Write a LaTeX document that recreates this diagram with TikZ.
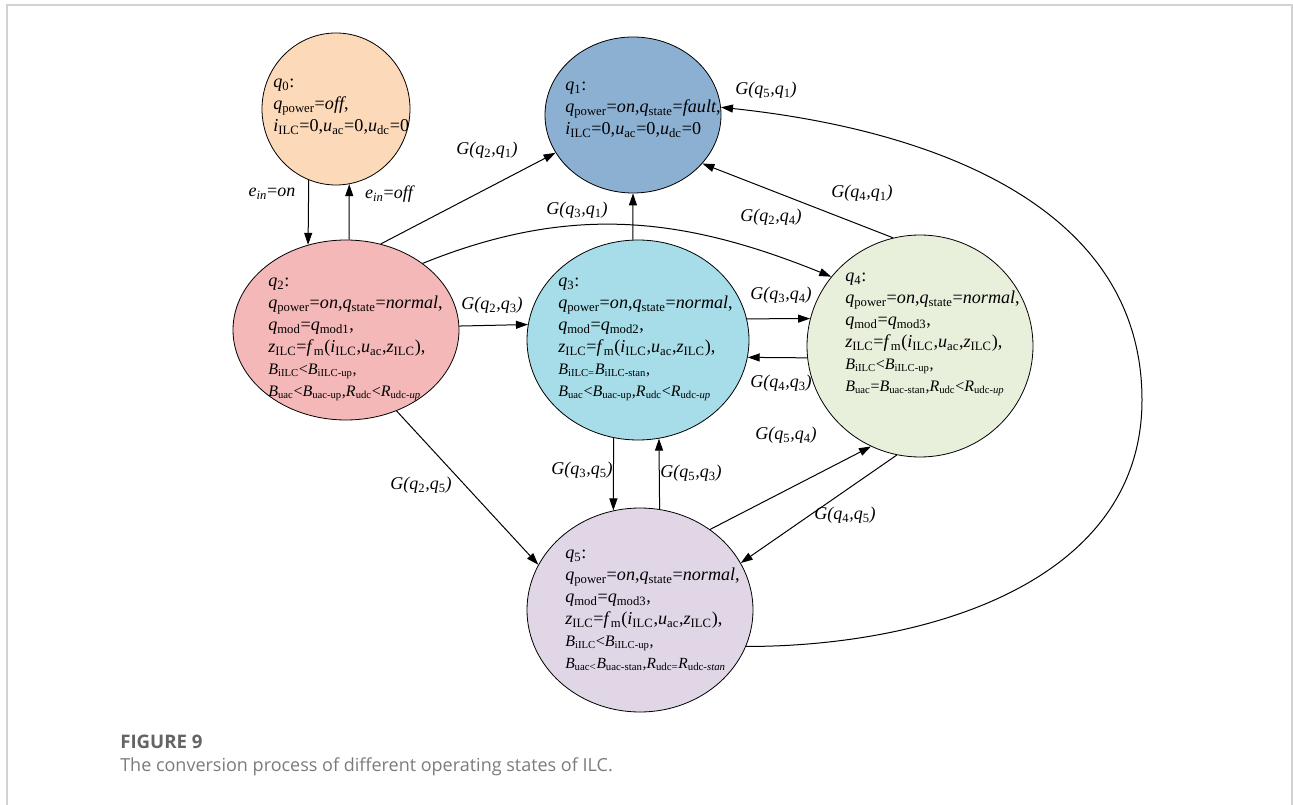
\documentclass[tikz,border=0pt]{standalone}
\usepackage{fontspec}
\setmainfont{Liberation Serif}
\newfontfamily\capfont{Open Sans}
\usetikzlibrary{arrows.meta}
\usetikzlibrary{shapes.geometric}
\usetikzlibrary{positioning}
\newcommand{\vsub}[2]{\textit{#1}\textsubscript{#2}}
\newcommand{\gtr}[2]{\textit{G(q}\textsubscript{#1}\textit{,q}\textsubscript{#2}\textit{)}}
\newcommand{\smallline}{\fontsize{12}{14}\selectfont}
\definecolor{cq0}{RGB}{252,217,184}
\definecolor{cq1}{RGB}{140,176,210}
\definecolor{cq2}{RGB}{244,184,184}
\definecolor{cq3}{RGB}{166,221,232}
\definecolor{cq4}{RGB}{232,240,220}
\definecolor{cq5}{RGB}{224,214,230}
\definecolor{framegray}{RGB}{210,210,210}
\definecolor{capgray}{RGB}{100,100,100}
\begin{document}
\begin{tikzpicture}[
    x=0.75pt, y=-0.75pt,
    >={Triangle[length=9pt,width=6pt]},
    state/.style 2 args={draw, ellipse, inner sep=0pt, line width=0.6pt,
        minimum width=#1*1.5pt, minimum height=#2*1.5pt},
    desc/.style={anchor=north west, align=left, inner sep=0pt,
        font=\fontsize{13.6}{16.4}\selectfont},
    lab/.style={inner sep=0pt, font=\fontsize{13.5}{15}\selectfont},
    flow/.style={->, line width=0.75pt}
]
    \useasboundingbox (0,0) rectangle (1293,805);
    % frame
    \draw[framegray, line width=1.5pt] (7,805) -- (7,5) -- (1292,5) -- (1292,805);

    % states
    \node[state={74}{76}, fill=cq0] (q0) at (336,109) {};
    \node[state={88}{78}, fill=cq1] (q1) at (633,115) {};
    \node[state={113}{90}, fill=cq2] (q2) at (346,330) {};
    \node[state={111}{100}, fill=cq3] (q3) at (638,340) {};
    \node[state={113}{111}, fill=cq4] (q4) at (920,346) {};
    \node[state={113}{102}, fill=cq5] (q5) at (640,610) {};

    % state descriptions
    \node[desc] (d0) at (273,79) {\vsub{q}{0}:\\
        \vsub{q}{power}=\textit{off},\\
        \vsub{i}{ILC}=0,\vsub{u}{ac}=0,\vsub{u}{dc}=0};
    \node[desc] (d1) at (565,82) {\vsub{q}{1}:\\
        \vsub{q}{power}=\textit{on},\vsub{q}{state}=\textit{fault},\\
        \vsub{i}{ILC}=0,\vsub{u}{ac}=0,\vsub{u}{dc}=0};
    \node[desc] (d2) at (268,278) {\vsub{q}{2}:\\
        \vsub{q}{power}=\textit{on},\vsub{q}{state}=\textit{normal},\\
        \vsub{q}{mod}=\vsub{q}{mod1},\\
        \vsub{z}{ILC}=\vsub{f}{m}(\vsub{i}{ILC},\vsub{u}{ac},\vsub{z}{ILC}),\\
        {\smallline\vsub{B}{iILC}<\vsub{B}{iILC-up},}\\
        {\smallline\vsub{B}{uac}<\vsub{B}{uac-up},\vsub{R}{udc}<\vsub{R}{udc-\textit{up}}}};
    \node[desc] (d3) at (558,278) {\vsub{q}{3}:\\
        \vsub{q}{power}=\textit{on},\vsub{q}{state}=\textit{normal},\\
        \vsub{q}{mod}=\vsub{q}{mod2},\\
        \vsub{z}{ILC}=\vsub{f}{m}(\vsub{i}{ILC},\vsub{u}{ac},\vsub{z}{ILC}),\\
        {\smallline\vsub{B}{iILC=}\vsub{B}{iILC-stan},}\\
        {\smallline\vsub{B}{uac}<\vsub{B}{uac-up},\vsub{R}{udc}<\vsub{R}{udc-\textit{up}}}};
    \node[desc] (d4) at (845,273) {\vsub{q}{4}:\\
        \vsub{q}{power}=\textit{on},\vsub{q}{state}=\textit{normal},\\
        \vsub{q}{mod}=\vsub{q}{mod3},\\
        \vsub{z}{ILC}=\vsub{f}{m}(\vsub{i}{ILC},\vsub{u}{ac},\vsub{z}{ILC}),\\
        {\smallline\vsub{B}{iILC}<\vsub{B}{iILC-up},}\\
        {\smallline\vsub{B}{uac}=\vsub{B}{uac-stan},\vsub{R}{udc}<\vsub{R}{udc-\textit{up}}}};
    \node[desc] (d5) at (565,550) {\vsub{q}{5}:\\
        \vsub{q}{power}=\textit{on},\vsub{q}{state}=\textit{normal},\\
        \vsub{q}{mod}=\vsub{q}{mod3},\\
        \vsub{z}{ILC}=\vsub{f}{m}(\vsub{i}{ILC},\vsub{u}{ac},\vsub{z}{ILC}),\\
        {\smallline\vsub{B}{iILC}<\vsub{B}{iILC-up},}\\
        {\fontsize{11.6}{14}\selectfont\vsub{B}{uac<}\vsub{B}{uac-stan},\vsub{R}{udc=}\vsub{R}{udc-\textit{stan}}}};

    % transitions
    \draw[flow] (q0.249) -- (q2.114);
    \draw[flow] (q2.88) -- (q0.280);
    \draw[flow] (q2.68) -- (q1.206);
    \draw[flow] (q3.93) -- (q1.270);
    \draw[flow] (q2.41) to[out=22, in=158] (q4.142);
    \draw[flow] (q4.104) -- (q1.325);
    \coordinate (farright) at (1142,400);
    \draw[flow] (q5.341) to[out=0, in=-90] (farright) to[out=90, in=-6] (q1.5);
    \draw[flow] (q2.2.5) -- (q3.172);
    \draw[flow] (q3.11) -- (q4.166);
    \draw[flow] (q4.186) -- (q3.351);
    \draw[flow] (q3.256) -- (q5.105);
    \draw[flow] (q5.79) -- (q3.282);
    \draw[flow] (q2.302) -- (q5.156);
    \draw[flow] (q5.49) -- (q4.244);
    \draw[flow] (q4.258) -- (q5.25);

    % transition labels
    \node[lab] (l02) at (272,194) {\vsub{e}{\textit{in}}=\textit{on}};
    \node[lab] (l20) at (390,194) {\vsub{e}{\textit{in}}=\textit{off}};
    \node[lab] (l21) at (487,150) {\gtr{2}{1}};
    \node[lab] (l31) at (577,210) {\gtr{3}{1}};
    \node[lab] (l24) at (771,217) {\gtr{2}{4}};
    \node[lab] (l41) at (862,193) {\gtr{4}{1}};
    \node[lab] (l51) at (766,90) {\gtr{5}{1}};
    \node[lab] (l23) at (492,305) {\gtr{2}{3}};
    \node[lab] (l34) at (781,295) {\gtr{3}{4}};
    \node[lab] (l43) at (781,383) {\gtr{4}{3}};
    \node[lab] (l35) at (582,470) {\gtr{3}{5}};
    \node[lab] (l53) at (691,473) {\gtr{5}{3}};
    \node[lab] (l25) at (421,485) {\gtr{2}{5}};
    \node[lab] (l54) at (786,435) {\gtr{5}{4}};
    \node[lab] (l45) at (845,515) {\gtr{4}{5}};

    % caption
    \node[anchor=west, inner sep=0pt, text=capgray, font=\capfont\bfseries\fontsize{14}{16}\selectfont] (figno) at (120,742) {FIGURE 9};
    \node[anchor=west, inner sep=0pt, text=capgray!85, font=\capfont\fontsize{13.5}{16}\selectfont] (figcap) at (120,767) {The conversion process of different operating states of ILC.};
\end{tikzpicture}
\end{document}
